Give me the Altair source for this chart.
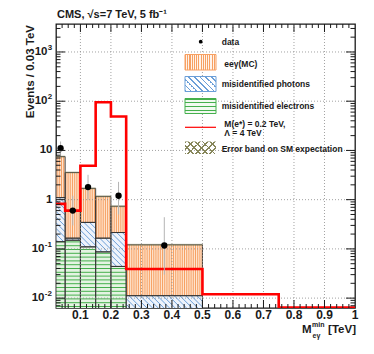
import math
import altair as alt
import pandas as pd

# ---------------- data ----------------
bin_lo = [0.02, 0.05, 0.10, 0.15, 0.20, 0.25]
bin_hi = [0.05, 0.10, 0.15, 0.20, 0.25, 0.50]
misid_electrons = [0.14, 0.15, 0.11, 0.087, 0.044, 0.0]
misid_photons = [0.96, 0.015, 0.235, 0.078, 0.171, 0.0102]
eegamma_mc = [6.4, 3.4, 1.35, 1.0, 0.52, 0.11]

sig_lo = [0.02, 0.05, 0.10, 0.15, 0.20, 0.25, 0.50, 0.75]
sig_hi = [0.05, 0.10, 0.15, 0.20, 0.25, 0.50, 0.75, 1.00]
signal = [0.82, 0.60, 4.9, 95.0, 49.0, 0.039, 0.012, 0.0064]

data_x = [0.035, 0.075, 0.125, 0.225, 0.375]
data_y = [11.1, 0.6, 1.8, 1.2, 0.117]
data_up = [15.2, 1.2, 3.2, 2.3, 0.44]
data_dn = [7.8, 0.3, 1.0, 0.5, 0.03]

x_tick_values = [0.1, 0.2, 0.3, 0.4, 0.5, 0.6, 0.7, 0.8, 0.9, 1.0]
x_tick_labels = ["0.1", "0.2", "0.3", "0.4", "0.5", "0.6", "0.7", "0.8", "0.9", "1"]
y_tick_values = [0.01, 0.1, 1, 10, 100, 1000]
y_label_base = ["10", "10", "1", "10", "10", "10"]
y_label_exp = ["-2", "-1", "", "", "2", "3"]

# ---------------- layout / style ----------------
W, H = 299, 284
FONT = "Liberation Sans"
YMIN, YMAX = 0.0063, 3700
X_SCALE = alt.Scale(domain=[0.02, 1.0], nice=False, zero=False)
Y_SCALE = alt.Scale(type="log", domain=[YMIN, YMAX], nice=False)
FLOOR = 1e-3
INK = "#1a1a1a"

C_MC_BG, C_MC_LN = "#fee4cf", "#f7a062"
C_PH_BG, C_PH_LN = "#eef3fb", "#6b9fd8"
C_EL_BG, C_EL_LN = "#e4f3e2", "#45b04d"
C_ERR = "#86865a"

# ---------------- stacked histogram table ----------------
rows = []
for lo, hi, e, p, m in zip(bin_lo, bin_hi, misid_electrons, misid_photons, eegamma_mc):
    e_top = max(e, FLOOR)
    p_top = e_top + p
    m_top = p_top + m
    rows.append(dict(lo=lo, hi=hi, comp="ele", bottom=FLOOR, top=e_top))
    rows.append(dict(lo=lo, hi=hi, comp="pho", bottom=e_top, top=p_top))
    rows.append(dict(lo=lo, hi=hi, comp="mc", bottom=p_top, top=m_top))
hist = pd.DataFrame(rows)


def X(f):
    return alt.X(f, scale=X_SCALE, axis=None)


def Y(f):
    return alt.Y(f, scale=Y_SCALE, axis=None)


layers = []

# background fills
for comp, bg in [("ele", C_EL_BG), ("pho", C_PH_BG), ("mc", C_MC_BG)]:
    layers.append(alt.Chart(hist[hist.comp == comp]).mark_rect(fill=bg, clip=True).encode(
        x=X("lo:Q"), x2="hi:Q", y=Y("top:Q"), y2="bottom:Q"))

# --- hatch textures (derived from the histogram table) ---
# vertical lines in eegamma(MC)
mc = hist[hist.comp == "mc"].reset_index(drop=True)
vl = []
step = 0.0072
xv = 0.02 + step / 2
while xv < 0.5:
    r = mc[(mc.lo <= xv) & (mc.hi > xv)].iloc[0]
    vl.append(dict(x=xv, y1=r.bottom, y2=r.top))
    xv += step
layers.append(alt.Chart(pd.DataFrame(vl)).mark_rule(color=C_MC_LN, strokeWidth=1, clip=True).encode(
    x=X("x:Q"), y=Y("y1:Q"), y2="y2:Q"))

# horizontal lines in misidentified electrons
ele = hist[hist.comp == "ele"]
hl = []
LB, LT = math.log10(YMIN), math.log10(YMAX)
dec_px = H / (LT - LB)
for _, r in ele.iterrows():
    lev = LB + 1.5 / dec_px
    while 10 ** lev < r.top:
        hl.append(dict(x1=r.lo, x2=r.hi, y=10 ** lev))
        lev += 3.8 / dec_px
layers.append(alt.Chart(pd.DataFrame(hl)).mark_rule(color=C_EL_LN, strokeWidth=1, clip=True).encode(
    x=X("x1:Q"), x2="x2:Q", y=Y("y:Q")))

# diagonal lines in misidentified photons
pho = hist[hist.comp == "pho"]
xpx = W / 0.98
s = xpx / dec_px           # decades per x unit for a 45 degree line
dc = 4.0 * math.sqrt(2) / dec_px
dl = []
for _, r in pho.iterrows():
    lb = math.log10(max(r.bottom, YMIN))
    lt = math.log10(r.top)
    if lt <= lb:
        continue
    j0 = math.floor((lb + s * r.lo) / dc)
    j1 = math.ceil((lt + s * r.hi) / dc)
    for j in range(j0, j1 + 1):
        c = j * dc
        xa = max(r.lo, (c - lt) / s)
        xb = min(r.hi, (c - lb) / s)
        if xb > xa:
            dl.append(dict(xa=xa, xb=xb, ya=10 ** (c - s * xa), yb=10 ** (c - s * xb)))
layers.append(alt.Chart(pd.DataFrame(dl)).mark_rule(color=C_PH_LN, strokeWidth=1, clip=True).encode(
    x=X("xa:Q"), x2="xb:Q", y=Y("ya:Q"), y2="yb:Q"))

# outlines
for comp in ["ele", "pho", "mc"]:
    layers.append(alt.Chart(hist[hist.comp == comp]).mark_rect(
        fillOpacity=0, stroke="#333", strokeWidth=0.9, clip=True).encode(
        x=X("lo:Q"), x2="hi:Q", y=Y("top:Q"), y2="bottom:Q"))

# error band on SM expectation
band = mc.copy()
band["b_lo"] = band["top"] * 0.95
band["b_hi"] = band["top"] * 1.05
layers.append(alt.Chart(band).mark_rect(fill=C_ERR, opacity=0.35, clip=True).encode(
    x=X("lo:Q"), x2="hi:Q", y=Y("b_lo:Q"), y2="b_hi:Q"))

# grid (dotted)
layers.append(alt.Chart(pd.DataFrame({"v": x_tick_values[:-1]})).mark_rule(
    color="#8a8a8a", strokeWidth=0.8, strokeDash=[1, 2]).encode(
    x=X("v:Q"), y=alt.value(0), y2=alt.value(H)))
layers.append(alt.Chart(pd.DataFrame({"v": y_tick_values})).mark_rule(
    color="#8a8a8a", strokeWidth=0.8, strokeDash=[1, 2]).encode(
    y=Y("v:Q"), x=alt.value(0), x2=alt.value(W)))

# signal step line
sig_df = pd.DataFrame({"x": sig_lo + [sig_hi[-1]], "y": signal + [signal[-1]]})
layers.append(alt.Chart(sig_df).mark_line(interpolate="step-after", color="#ff0000",
                                          strokeWidth=2.6, clip=True).encode(x=X("x:Q"), y=Y("y:Q")))

# data points with errors
dpts = pd.DataFrame({"x": data_x, "y": data_y, "up": data_up, "dn": data_dn})
layers.append(alt.Chart(dpts).mark_rule(color="#b4b4b4", strokeWidth=1).encode(
    x=X("x:Q"), y=Y("dn:Q"), y2="up:Q"))
layers.append(alt.Chart(dpts).mark_circle(color="black", opacity=1, size=40).encode(
    x=X("x:Q"), y=Y("y:Q")))

# ---------------- ROOT-style inward ticks ----------------
x_major = x_tick_values[:-1]
x_minor = [round(0.02 * k, 2) for k in range(2, 50)
           if round(0.02 * k, 2) not in [round(v, 2) for v in x_tick_values]]
y_minor = [k * 10.0 ** d for d in range(-3, 4) for k in range(2, 10) if YMIN < k * 10.0 ** d < YMAX]


def xticks(vals, length):
    df = pd.DataFrame({"v": vals})
    return [alt.Chart(df).mark_rule(color=INK, strokeWidth=1).encode(
        x=X("v:Q"), y=alt.value(a), y2=alt.value(b)) for a, b in [(H, H - length), (0, length)]]


def yticks(vals, length):
    df = pd.DataFrame({"v": vals})
    return [alt.Chart(df).mark_rule(color=INK, strokeWidth=1).encode(
        y=Y("v:Q"), x=alt.value(a), x2=alt.value(b)) for a, b in [(0, length), (W, W - length)]]


layers += xticks(x_major, 8) + xticks(x_minor, 4)
layers += yticks(y_tick_values, 9) + yticks(y_minor, 4.5)

# ---------------- tick labels ----------------
xl = pd.DataFrame({"v": x_tick_values, "t": x_tick_labels})
layers.append(alt.Chart(xl).mark_text(font=FONT, fontSize=12, fontWeight="bold", color=INK,
                                      baseline="middle", align="center").encode(
    x=X("v:Q"), y=alt.value(H + 6.5), text="t:N"))

yl = pd.DataFrame({"v": y_tick_values, "b": y_label_base, "e": y_label_exp})
groups = [(yl[yl.e.str.startswith("-")], -11.5), (yl[(yl.e != "") & ~yl.e.str.startswith("-")], -8.5),
          (yl[yl.e == ""], -3.5)]
for g, xs in groups:
    layers.append(alt.Chart(g).mark_text(font=FONT, fontSize=11.5, fontWeight="bold", color=INK,
                                         baseline="middle", align="right").encode(
        y=Y("v:Q"), x=alt.value(xs), text="b:N"))
    if xs < -4:
        layers.append(alt.Chart(g).mark_text(font=FONT, fontSize=8, fontWeight="bold", color=INK,
                                             baseline="middle", align="left", dy=-4).encode(
            y=Y("v:Q"), x=alt.value(xs + 0.3), text="e:N"))

# ---------------- texts & legend ----------------
one = pd.DataFrame({"k": [0]})


def text(t, x, y, size=8.5, align="left", baseline="middle", angle=0):
    return alt.Chart(one).mark_text(text=t, align=align, baseline=baseline, font=FONT, angle=angle,
                                    fontSize=size, fontWeight="bold", color=INK).encode(
        x=alt.value(x), y=alt.value(y))


def stripes(bg, ln, n, frac, x1, y1, x2, y2):
    stops = []
    for k in range(n):
        a, b, c = k / n, (k + frac) / n, (k + 1) / n
        stops += [dict(offset=a, color=ln), dict(offset=b, color=ln),
                  dict(offset=b, color=bg), dict(offset=c, color=bg)]
    return dict(gradient="linear", x1=x1, y1=y1, x2=x2, y2=y2, stops=stops)


def diag(bg, ln, w, h, period, frac, back=True):
    r = h / w
    lam = (1 + r) / (1 + r * r)
    n = max(1, round((w + h) / math.sqrt(2) / period))
    if back:   # "\" lines
        return stripes(bg, ln, n, frac, 0, 1, lam, 1 - lam * r)
    return stripes(bg, ln, n, frac, 0, 0, lam, lam * r)


def box(x1, x2, y1, y2, fill, stroke=None):
    kw = dict(fill=fill, strokeWidth=1)
    if stroke:
        kw["stroke"] = stroke
    return alt.Chart(one).mark_rect(**kw).encode(
        x=alt.value(x1), x2=alt.value(x2), y=alt.value(y1), y2=alt.value(y2))


BX1, BX2 = 129, 160
layers += [
    alt.Chart(one).mark_circle(color="black", opacity=1, size=14).encode(x=alt.value(144.7), y=alt.value(17.7)),
    text("data", 165.7, 18),
    box(BX1, BX2, 30.5, 46, stripes("#fff3ea", C_MC_LN, 14, 0.5, 0, 0, 1, 0), C_MC_LN),
    text("ee\u03b3(MC)", 168.3, 39.5),
    box(BX1, BX2, 52.5, 67.5, diag("#ffffff", C_PH_LN, 31, 15, 4.0, 0.3), C_PH_LN),
    text("misidentified photons", 165.7, 59.5),
    box(BX1, BX2, 74.5, 89.5, stripes("#f2faf1", C_EL_LN, 4, 0.3, 0, 0, 0, 1), C_EL_LN),
    text("misidentified electrons", 165.7, 82),
    alt.Chart(one).mark_rule(color="#ff0000", strokeWidth=1.2).encode(
        x=alt.value(BX1), x2=alt.value(BX2), y=alt.value(103.3)),
    text("M(e*) = 0.2 TeV,", 168.3, 99.5),
    text("\u039b = 4 TeV", 168.3, 108.7),
    box(BX1, BX2, 117.5, 130, diag("rgba(255,255,255,0)", C_ERR, 31, 12.5, 5.0, 0.25, True)),
    box(BX1, BX2, 117.5, 130, diag("rgba(255,255,255,0)", C_ERR, 31, 12.5, 5.0, 0.25, False)),
    text("Error band on SM expectation", 165.7, 124.5),
    # title
    text("CMS, \u221as=7 TeV, 5 fb\u207b\u00b9", 1, -9, size=11),
    # y title
    text("Events / 0.03 TeV", -25, 1, size=11.5, align="right", angle=270),
    # x title
    text("M", 246, 309, size=11.5, baseline="alphabetic"),
    text("min", 256, 302.5, size=7, baseline="alphabetic"),
    text("e\u03b3", 256.5, 313.5, size=7, baseline="alphabetic"),
    text("[TeV]", 300, 309, size=11.5, align="right", baseline="alphabetic"),
]

chart = alt.layer(*layers).properties(
    width=W, height=H,
    autosize=alt.AutoSizeParams(type="none"),
    padding={"left": 48, "top": 16, "right": 11, "bottom": 38},
    background="white",
).configure_view(stroke=INK, strokeWidth=1.3)

chart.save("out.html", embed_options={"renderer": "svg", "actions": False})
